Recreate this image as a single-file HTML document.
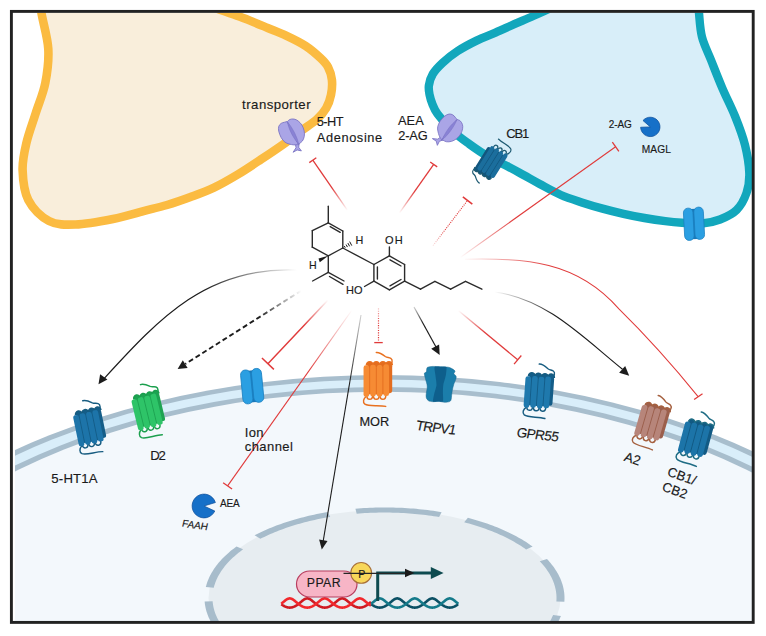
<!DOCTYPE html>
<html><head><meta charset="utf-8"><style>
html,body{margin:0;padding:0;background:#ffffff;width:766px;height:636px;overflow:hidden;}
svg{display:block;}
text{font-family:"Liberation Sans",sans-serif;}
</style></head><body>
<svg width="766" height="636" viewBox="0 0 766 636">
<defs><clipPath id="frame"><rect x="13" y="12.8" width="739" height="608.2"/></clipPath><clipPath id="cellclip"><rect x="15" y="12.8" width="737" height="608.2"/></clipPath><linearGradient id="g1" gradientUnits="userSpaceOnUse" x1="347.5" y1="210.3" x2="312.8" y2="160.2"><stop offset="0" stop-color="#e03a3a" stop-opacity="0"/><stop offset="0.45" stop-color="#e03a3a" stop-opacity="1"/><stop offset="1" stop-color="#e03a3a" stop-opacity="1"/></linearGradient><linearGradient id="g2" gradientUnits="userSpaceOnUse" x1="399.3" y1="213.2" x2="433.7" y2="164.4"><stop offset="0" stop-color="#e03a3a" stop-opacity="0"/><stop offset="0.45" stop-color="#e03a3a" stop-opacity="1"/><stop offset="1" stop-color="#e03a3a" stop-opacity="1"/></linearGradient><linearGradient id="g3" gradientUnits="userSpaceOnUse" x1="432.3" y1="244.8" x2="468.2" y2="200.3"><stop offset="0" stop-color="#e03a3a" stop-opacity="0.15"/><stop offset="0.35" stop-color="#e03a3a" stop-opacity="1"/><stop offset="1" stop-color="#e03a3a" stop-opacity="1"/></linearGradient><linearGradient id="g4" gradientUnits="userSpaceOnUse" x1="460" y1="257.7" x2="616" y2="146.4"><stop offset="0" stop-color="#e03a3a" stop-opacity="0"/><stop offset="0.35" stop-color="#e03a3a" stop-opacity="1"/><stop offset="1" stop-color="#e03a3a" stop-opacity="1"/></linearGradient><linearGradient id="g5" gradientUnits="userSpaceOnUse" x1="462" y1="259" x2="560" y2="262"><stop offset="0" stop-color="#e03a3a" stop-opacity="0"/><stop offset="0.9" stop-color="#e03a3a" stop-opacity="1"/><stop offset="1" stop-color="#e03a3a" stop-opacity="1"/></linearGradient><linearGradient id="g6" gradientUnits="userSpaceOnUse" x1="494.8" y1="292" x2="560" y2="320"><stop offset="0" stop-color="#1c1c1c" stop-opacity="0"/><stop offset="0.9" stop-color="#1c1c1c" stop-opacity="1"/><stop offset="1" stop-color="#1c1c1c" stop-opacity="1"/></linearGradient><linearGradient id="g7" gradientUnits="userSpaceOnUse" x1="458.3" y1="310.4" x2="517.7" y2="359.8"><stop offset="0" stop-color="#e03a3a" stop-opacity="0"/><stop offset="0.45" stop-color="#e03a3a" stop-opacity="1"/><stop offset="1" stop-color="#e03a3a" stop-opacity="1"/></linearGradient><linearGradient id="g8" gradientUnits="userSpaceOnUse" x1="414" y1="307" x2="440" y2="355"><stop offset="0" stop-color="#1c1c1c" stop-opacity="0.2"/><stop offset="0.35" stop-color="#1c1c1c" stop-opacity="1"/><stop offset="1" stop-color="#1c1c1c" stop-opacity="1"/></linearGradient><linearGradient id="g9" gradientUnits="userSpaceOnUse" x1="296.9" y1="270" x2="200" y2="290"><stop offset="0" stop-color="#1c1c1c" stop-opacity="0"/><stop offset="0.95" stop-color="#1c1c1c" stop-opacity="1"/><stop offset="1" stop-color="#1c1c1c" stop-opacity="1"/></linearGradient><linearGradient id="g10" gradientUnits="userSpaceOnUse" x1="301.2" y1="290.7" x2="177.6" y2="368.9"><stop offset="0" stop-color="#1c1c1c" stop-opacity="0"/><stop offset="0.35" stop-color="#1c1c1c" stop-opacity="1"/><stop offset="1" stop-color="#1c1c1c" stop-opacity="1"/></linearGradient><linearGradient id="g11" gradientUnits="userSpaceOnUse" x1="328" y1="300" x2="268.2" y2="364"><stop offset="0" stop-color="#e03a3a" stop-opacity="0"/><stop offset="0.4" stop-color="#e03a3a" stop-opacity="1"/><stop offset="1" stop-color="#e03a3a" stop-opacity="1"/></linearGradient><linearGradient id="g12" gradientUnits="userSpaceOnUse" x1="352" y1="310" x2="227.6" y2="485.9"><stop offset="0" stop-color="#e03a3a" stop-opacity="0"/><stop offset="0.35" stop-color="#e03a3a" stop-opacity="1"/><stop offset="1" stop-color="#e03a3a" stop-opacity="1"/></linearGradient><linearGradient id="g13" gradientUnits="userSpaceOnUse" x1="361" y1="315" x2="322" y2="550"><stop offset="0" stop-color="#1c1c1c" stop-opacity="0.2"/><stop offset="0.3" stop-color="#1c1c1c" stop-opacity="1"/><stop offset="1" stop-color="#1c1c1c" stop-opacity="1"/></linearGradient><linearGradient id="g14" gradientUnits="userSpaceOnUse" x1="378.5" y1="308.3" x2="378.5" y2="342.6"><stop offset="0" stop-color="#e03a3a" stop-opacity="0.3"/><stop offset="0.4" stop-color="#e03a3a" stop-opacity="1"/><stop offset="1" stop-color="#e03a3a" stop-opacity="1"/></linearGradient></defs>
<rect x="0" y="0" width="766" height="636" fill="#ffffff"/>
<g clip-path="url(#frame)">
<path d="M40,-5 C40.25,-1.97 40.12,4.2 41.5,13.2 C42.88,22.2 47.67,37.37 48.3,49 C48.93,60.63 47.38,72.33 45.3,83 C43.22,93.67 38.95,103 35.8,113 C32.65,123 28.6,133.5 26.4,143 C24.2,152.5 22.28,160.5 22.6,170 C22.92,179.5 23.9,191.5 28.3,200 C32.7,208.5 41.13,216.92 49,221 C56.87,225.08 64.83,224.83 75.5,224.5 C86.17,224.17 101.67,221.23 113,219 C124.33,216.77 134.5,213.43 143.5,211.1 C152.5,208.77 159.17,207.35 167,205 C174.83,202.65 182.67,199.9 190.5,197 C198.33,194.1 206.17,191.33 214,187.6 C221.83,183.87 229.67,179.3 237.5,174.6 C245.33,169.9 253.17,164.6 261,159.4 C268.83,154.2 277.87,148.13 284.5,143.4 C291.13,138.67 295.42,135 300.8,131 C306.18,127 312.57,123.22 316.8,119.4 C321.03,115.58 323.83,112.18 326.2,108.1 C328.57,104.02 330.05,99.62 331,94.9 C331.95,90.18 332.4,84.45 331.9,79.8 C331.4,75.15 329.88,70.62 328,67 C326.12,63.38 324.35,61.63 320.6,58.1 C316.85,54.57 311.17,49.52 305.5,45.8 C299.83,42.08 292.9,38.78 286.6,35.8 C280.3,32.82 275.57,31.1 267.7,27.9 C259.83,24.7 249.85,20.58 239.4,16.6 C228.95,12.62 213.23,7.6 205,4 C196.77,0.4 192.5,-3.5 190,-5 Z" fill="#f9eedb" stroke="#fbbb41" stroke-width="8.6"/>
<path d="M575,-5 C571.67,-3.17 561.97,2.5 555,6 C548.03,9.5 539.98,12.97 533.2,16 C526.42,19.03 520.58,21.43 514.3,24.2 C508.02,26.97 501.78,29.87 495.5,32.6 C489.22,35.33 482.9,37.53 476.6,40.6 C470.3,43.67 463.37,47.3 457.7,51 C452.03,54.7 446.75,58.97 442.6,62.8 C438.45,66.63 435.08,70.22 432.8,74 C430.52,77.78 429.43,82.02 428.9,85.5 C428.37,88.98 429,91.77 429.6,94.9 C430.2,98.03 431.2,101.15 432.5,104.3 C433.8,107.45 434.15,109.43 437.4,113.8 C440.65,118.17 446.7,125.47 452,130.5 C457.3,135.53 463.2,139.67 469.2,144 C475.2,148.33 481.48,152.72 488,156.5 C494.52,160.28 502.3,163.57 508.3,166.7 C514.3,169.83 518.77,172.42 524,175.3 C529.23,178.18 533.55,180.72 539.7,184 C545.85,187.28 553.88,191.93 560.9,195 C567.92,198.07 574.85,200.13 581.8,202.4 C588.75,204.67 595.65,206.7 602.6,208.6 C609.55,210.5 616.53,212.23 623.5,213.8 C630.47,215.37 637.43,216.77 644.4,218 C651.37,219.23 659.03,220.4 665.3,221.2 C671.57,222 675.88,222.42 682,222.8 C688.12,223.18 695.67,224.05 702,223.5 C708.33,222.95 714.23,221.75 720,219.5 C725.77,217.25 732.18,214.42 736.6,210 C741.02,205.58 744.38,199.13 746.5,193 C748.62,186.87 749.55,181.2 749.3,173.2 C749.05,165.2 747.35,154.43 745,145 C742.65,135.57 738.97,126.05 735.2,116.6 C731.43,107.15 726.43,97.73 722.4,88.3 C718.37,78.87 714.4,68.55 711,60 C707.6,51.45 704,44.83 702,37 C700,29.17 699.67,20 699,13 C698.33,6 698.17,-2 698,-5 Z" fill="#d8eef9" stroke="#12a7bc" stroke-width="8.4"/>
</g>
<g clip-path="url(#cellclip)">
<ellipse cx="382.45" cy="734.4" rx="600.87" ry="359.37" fill="#a8becd"/>
<ellipse cx="382.45" cy="734.4" rx="593.45" ry="354.93" fill="#d9eefa"/>
<ellipse cx="382.45" cy="734.4" rx="580.68" ry="347.3" fill="#a8becd"/>
<ellipse cx="382.45" cy="734.4" rx="573.05" ry="342.74" fill="#f3f8fc"/>
<ellipse cx="384.5" cy="598" rx="176" ry="88" fill="#e7edf1"/>
<path d="M314.17,681.35 L316.86,681.91 L319.56,682.45 L322.29,682.97 L325.03,683.46 L327.78,683.94 L330.55,684.39 L333.34,684.82 L336.13,685.22 L338.95,685.6 L341.77,685.96 L344.6,686.3 L347.44,686.61 L350.3,686.9 L353.16,687.17 L356.03,687.41 L358.91,687.63 L361.79,687.83 L364.69,688 L367.58,688.15 L370.48,688.27 L373.39,688.38 L376.29,688.46 L379.2,688.51 L382.11,688.54 L385.02,688.55 L387.93,688.53 L390.84,688.49 L393.75,688.43 L396.66,688.34 L399.56,688.23 L398.89,683.15 L396.12,683.25 L393.34,683.34 L390.56,683.4 L387.78,683.43 L385,683.45 L382.22,683.44 L379.44,683.41 L376.66,683.36 L373.88,683.29 L371.1,683.19 L368.33,683.07 L365.57,682.93 L362.8,682.77 L360.05,682.58 L357.3,682.37 L354.55,682.14 L351.82,681.89 L349.09,681.62 L346.37,681.32 L343.67,681.01 L340.97,680.67 L338.28,680.31 L335.61,679.93 L332.95,679.52 L330.3,679.1 L327.67,678.65 L325.05,678.18 L322.45,677.7 L319.86,677.19 L317.29,676.66 Z M427.74,685.9 L430.56,685.54 L433.37,685.15 L436.16,684.74 L438.95,684.31 L441.71,683.85 L444.47,683.38 L447.2,682.88 L449.92,682.36 L452.63,681.81 L455.31,681.25 L457.98,680.66 L460.63,680.05 L463.26,679.42 L465.86,678.77 L468.45,678.1 L471.01,677.41 L473.56,676.69 L476.07,675.96 L478.57,675.2 L481.04,674.43 L483.48,673.63 L485.9,672.82 L488.29,671.98 L490.66,671.13 L492.99,670.25 L495.3,669.36 L497.58,668.45 L499.83,667.52 L502.05,666.57 L504.24,665.61 L498.92,661.8 L496.83,662.71 L494.71,663.61 L492.56,664.48 L490.38,665.34 L488.17,666.18 L485.94,667.01 L483.68,667.81 L481.39,668.6 L479.08,669.37 L476.75,670.12 L474.39,670.85 L472,671.57 L469.6,672.26 L467.17,672.93 L464.72,673.59 L462.25,674.22 L459.76,674.84 L457.24,675.43 L454.71,676.01 L452.17,676.56 L449.6,677.09 L447.02,677.61 L444.42,678.1 L441.8,678.57 L439.17,679.02 L436.53,679.45 L433.87,679.85 L431.2,680.24 L428.51,680.6 L425.82,680.95 Z M523.99,655.23 L525.81,654.09 L527.6,652.93 L529.34,651.76 L531.05,650.57 L532.72,649.37 L534.36,648.16 L535.95,646.94 L537.5,645.7 L539.02,644.45 L540.49,643.18 L541.92,641.91 L543.31,640.62 L544.66,639.32 L545.97,638.02 L547.23,636.7 L548.46,635.37 L549.64,634.03 L550.77,632.68 L551.87,631.32 L552.92,629.96 L553.92,628.58 L554.88,627.2 L555.8,625.81 L556.67,624.41 L557.5,623.01 L558.28,621.6 L559.02,620.18 L559.71,618.76 L560.35,617.33 L560.95,615.9 L553.11,614.89 L552.53,616.24 L551.92,617.59 L551.26,618.93 L550.56,620.27 L549.81,621.6 L549.02,622.93 L548.19,624.24 L547.31,625.56 L546.39,626.86 L545.43,628.16 L544.43,629.45 L543.38,630.73 L542.3,632 L541.17,633.26 L540,634.52 L538.79,635.76 L537.54,637 L536.25,638.22 L534.92,639.44 L533.56,640.64 L532.15,641.83 L530.7,643.01 L529.22,644.18 L527.7,645.34 L526.14,646.48 L524.54,647.61 L522.91,648.73 L521.24,649.84 L519.53,650.93 L517.79,652.01 Z M564.35,601.63 L564.45,600.17 L564.49,598.71 L564.49,597.24 L564.45,595.78 L564.35,594.31 L564.21,592.85 L564.02,591.39 L563.78,589.93 L563.5,588.47 L563.17,587.02 L562.79,585.56 L562.37,584.12 L561.9,582.67 L561.39,581.23 L560.82,579.79 L560.22,578.36 L559.56,576.93 L558.86,575.51 L558.11,574.1 L557.32,572.69 L556.49,571.28 L555.61,569.89 L554.68,568.5 L553.71,567.12 L552.69,565.75 L551.64,564.38 L550.53,563.03 L549.39,561.68 L548.2,560.34 L546.97,559.02 L539.74,561.21 L540.92,562.46 L542.06,563.73 L543.15,565 L544.21,566.28 L545.22,567.56 L546.19,568.86 L547.12,570.16 L548,571.47 L548.84,572.79 L549.64,574.11 L550.4,575.44 L551.11,576.78 L551.78,578.12 L552.41,579.47 L552.99,580.82 L553.52,582.17 L554.02,583.53 L554.47,584.9 L554.87,586.27 L555.23,587.64 L555.55,589.01 L555.82,590.38 L556.04,591.76 L556.22,593.14 L556.36,594.52 L556.45,595.9 L556.49,597.28 L556.49,598.67 L556.45,600.05 L556.36,601.43 Z M532.66,546.58 L530.99,545.38 L529.28,544.2 L527.53,543.03 L525.75,541.87 L523.92,540.73 L522.06,539.6 L520.17,538.49 L518.24,537.39 L516.27,536.31 L514.27,535.25 L512.24,534.2 L510.17,533.17 L508.07,532.16 L505.94,531.16 L503.77,530.18 L501.58,529.22 L499.35,528.28 L497.09,527.35 L494.81,526.45 L492.49,525.56 L490.15,524.69 L487.78,523.84 L485.38,523.01 L482.96,522.2 L480.51,521.41 L478.03,520.63 L475.53,519.88 L473.01,519.15 L470.46,518.44 L467.89,517.75 L464.19,522.27 L466.64,522.92 L469.07,523.59 L471.49,524.28 L473.87,524.99 L476.24,525.72 L478.58,526.47 L480.9,527.23 L483.19,528.01 L485.45,528.82 L487.69,529.64 L489.9,530.48 L492.09,531.33 L494.24,532.2 L496.37,533.09 L498.47,534 L500.54,534.93 L502.58,535.87 L504.58,536.82 L506.56,537.8 L508.5,538.78 L510.42,539.79 L512.29,540.81 L514.14,541.84 L515.95,542.89 L517.73,543.95 L519.47,545.03 L521.18,546.12 L522.85,547.23 L524.48,548.35 L526.08,549.48 Z M441.61,512.13 L438.85,511.68 L436.06,511.24 L433.27,510.84 L430.46,510.45 L427.64,510.09 L424.81,509.75 L421.97,509.43 L419.11,509.14 L416.25,508.87 L413.38,508.62 L410.5,508.4 L407.62,508.2 L404.73,508.02 L401.84,507.87 L398.94,507.74 L396.03,507.64 L393.13,507.55 L390.22,507.5 L387.31,507.46 L384.4,507.45 L381.48,507.46 L378.57,507.5 L375.67,507.56 L372.76,507.64 L369.86,507.75 L366.96,507.88 L364.06,508.04 L361.17,508.21 L358.29,508.42 L355.41,508.64 L356.7,513.67 L359.45,513.46 L362.21,513.27 L364.97,513.1 L367.74,512.96 L370.51,512.83 L373.28,512.73 L376.06,512.65 L378.84,512.6 L381.62,512.56 L384.4,512.55 L387.18,512.56 L389.96,512.59 L392.74,512.65 L395.52,512.73 L398.29,512.83 L401.07,512.95 L403.83,513.09 L406.59,513.26 L409.35,513.45 L412.1,513.66 L414.84,513.89 L417.57,514.14 L420.3,514.42 L423.02,514.72 L425.72,515.04 L428.42,515.38 L431.1,515.75 L433.77,516.13 L436.43,516.54 L439.08,516.97 Z M327.68,512.08 L324.93,512.55 L322.19,513.05 L319.47,513.57 L316.76,514.11 L314.07,514.67 L311.4,515.25 L308.75,515.86 L306.12,516.49 L303.51,517.13 L300.92,517.8 L298.35,518.49 L295.81,519.2 L293.29,519.94 L290.79,520.69 L288.32,521.46 L285.87,522.25 L283.45,523.07 L281.05,523.9 L278.68,524.75 L276.34,525.62 L274.03,526.51 L271.74,527.42 L269.49,528.34 L267.27,529.29 L265.07,530.25 L262.91,531.23 L260.78,532.23 L258.68,533.25 L256.62,534.28 L254.58,535.33 L260.36,538.86 L262.3,537.87 L264.27,536.89 L266.28,535.93 L268.31,534.99 L270.38,534.07 L272.48,533.16 L274.6,532.27 L276.76,531.39 L278.94,530.54 L281.15,529.7 L283.38,528.88 L285.65,528.07 L287.94,527.29 L290.25,526.52 L292.59,525.77 L294.95,525.04 L297.34,524.33 L299.75,523.64 L302.18,522.97 L304.64,522.32 L307.11,521.69 L309.6,521.08 L312.12,520.48 L314.65,519.91 L317.2,519.36 L319.77,518.83 L322.36,518.32 L324.96,517.83 L327.58,517.37 L330.21,516.92 Z M236.51,546.45 L234.88,547.66 L233.28,548.89 L231.72,550.12 L230.2,551.37 L228.72,552.63 L227.28,553.91 L225.89,555.19 L224.53,556.49 L223.22,557.79 L221.94,559.11 L220.72,560.44 L219.53,561.78 L218.39,563.12 L217.29,564.48 L216.23,565.85 L215.22,567.22 L214.25,568.6 L213.33,569.99 L212.45,571.38 L211.62,572.79 L210.83,574.2 L210.09,575.61 L209.39,577.04 L208.74,578.46 L208.13,579.9 L207.58,581.33 L207.06,582.77 L206.6,584.22 L206.18,585.67 L205.8,587.12 L213.75,587.73 L214.1,586.36 L214.5,585 L214.95,583.63 L215.44,582.27 L215.97,580.92 L216.55,579.56 L217.17,578.22 L217.84,576.87 L218.55,575.54 L219.3,574.21 L220.1,572.88 L220.94,571.57 L221.82,570.26 L222.74,568.95 L223.71,567.66 L224.72,566.37 L225.77,565.09 L226.86,563.82 L227.99,562.56 L229.17,561.3 L230.38,560.06 L231.64,558.83 L232.93,557.6 L234.27,556.39 L235.64,555.19 L237.06,554 L238.51,552.82 L240,551.65 L241.53,550.5 L243.09,549.36 Z M204.63,601.48 L204.77,602.94 L204.95,604.4 L205.18,605.86 L205.46,607.32 L205.78,608.77 L206.15,610.23 L206.56,611.68 L207.03,613.12 L207.54,614.56 L208.09,616 L208.69,617.43 L209.34,618.86 L210.04,620.28 L210.78,621.7 L211.56,623.11 L212.39,624.51 L213.26,625.91 L214.18,627.3 L215.15,628.68 L216.16,630.06 L217.21,631.42 L218.31,632.78 L219.45,634.13 L220.63,635.46 L221.85,636.79 L223.12,638.11 L224.43,639.42 L225.79,640.72 L227.18,642 L228.62,643.27 L235.54,640.73 L234.17,639.52 L232.84,638.31 L231.55,637.09 L230.3,635.85 L229.08,634.61 L227.91,633.35 L226.78,632.09 L225.69,630.82 L224.64,629.54 L223.64,628.25 L222.68,626.95 L221.75,625.65 L220.88,624.34 L220.04,623.02 L219.25,621.7 L218.5,620.37 L217.79,619.03 L217.13,617.69 L216.51,616.34 L215.93,614.99 L215.4,613.63 L214.92,612.27 L214.47,610.91 L214.08,609.54 L213.72,608.17 L213.41,606.79 L213.15,605.42 L212.93,604.04 L212.76,602.66 L212.63,601.28 Z M244.81,655.11 L246.67,656.24 L248.56,657.35 L250.48,658.45 L252.44,659.53 L254.44,660.6 L256.47,661.65 L258.53,662.68 L260.63,663.7 L262.75,664.7 L264.91,665.68 L267.11,666.64 L269.33,667.59 L271.58,668.52 L273.86,669.43 L276.17,670.32 L278.51,671.19 L280.88,672.04 L283.27,672.87 L285.69,673.69 L288.14,674.48 L290.61,675.26 L293.11,676.01 L295.63,676.74 L298.17,677.46 L300.74,678.15 L303.32,678.82 L305.93,679.47 L308.56,680.1 L311.21,680.7 L313.88,681.29 L317.02,676.6 L314.47,676.05 L311.94,675.47 L309.42,674.88 L306.93,674.27 L304.46,673.63 L302.01,672.98 L299.58,672.31 L297.17,671.62 L294.78,670.9 L292.42,670.17 L290.08,669.43 L287.77,668.66 L285.48,667.87 L283.22,667.07 L280.99,666.24 L278.78,665.4 L276.6,664.54 L274.45,663.67 L272.32,662.78 L270.23,661.87 L268.17,660.94 L266.13,660 L264.13,659.04 L262.16,658.06 L260.22,657.07 L258.31,656.07 L256.44,655.04 L254.6,654.01 L252.79,652.96 L251.02,651.89 Z M340.95,685.86 L343.78,686.2 L346.63,686.52 L349.48,686.82 L352.34,687.09 L355.2,687.34 L358.08,687.57 L360.96,687.77 L363.85,687.95 L366.75,688.11 L369.65,688.24 L372.55,688.35 L375.46,688.44 L378.36,688.5 L381.27,688.54 L384.19,688.55 L387.1,688.54 L390.01,688.51 L392.92,688.45 L395.82,688.37 L398.73,688.27 L401.63,688.14 L404.52,687.99 L407.41,687.81 L410.3,687.62 L413.18,687.39 L416.05,687.15 L418.91,686.88 L421.76,686.59 L424.6,686.27 L427.44,685.94 L425.53,680.98 L422.82,681.3 L420.1,681.6 L417.38,681.87 L414.64,682.13 L411.9,682.36 L409.15,682.57 L406.39,682.75 L403.63,682.92 L400.87,683.06 L398.09,683.18 L395.32,683.28 L392.54,683.36 L389.76,683.41 L386.98,683.44 L384.2,683.45 L381.42,683.44 L378.64,683.4 L375.86,683.34 L373.08,683.26 L370.31,683.16 L367.54,683.03 L364.77,682.89 L362.01,682.72 L359.25,682.52 L356.51,682.31 L353.77,682.07 L351.03,681.82 L348.31,681.54 L345.59,681.24 L342.89,680.91 Z" fill="#a7bccb"/>
</g>
<g fill="none"><line x1="347.5" y1="210.3" x2="312.8" y2="160.2" stroke="url(#g1)" stroke-width="1.3"/><line x1="316.33" y1="157.75" x2="309.27" y2="162.65" stroke="#e03a3a" stroke-width="1.3"/><line x1="399.3" y1="213.2" x2="433.7" y2="164.4" stroke="url(#g2)" stroke-width="1.3"/><line x1="437.21" y1="166.88" x2="430.19" y2="161.92" stroke="#e03a3a" stroke-width="1.3"/><line x1="433" y1="245.6" x2="467.6" y2="200.4" stroke="url(#g3)" stroke-width="1.1" stroke-dasharray="1.1 1.1"/><line x1="472.32" y1="204.02" x2="462.88" y2="196.78" stroke="#e03a3a" stroke-width="1.6"/><line x1="460" y1="257.7" x2="615.6" y2="146.8" stroke="url(#g4)" stroke-width="1.1"/><line x1="618.85" y1="151.36" x2="612.35" y2="142.24" stroke="#e03a3a" stroke-width="1.3"/><line x1="458.3" y1="310.4" x2="517.7" y2="359.8" stroke="url(#g7)" stroke-width="1.3"/><line x1="514.09" y1="364.14" x2="521.31" y2="355.46" stroke="#e03a3a" stroke-width="1.3"/><line x1="378.5" y1="308.3" x2="378.5" y2="342.6" stroke="url(#g14)" stroke-width="1.2" stroke-dasharray="1.1 1.3"/><line x1="374.25" y1="342.6" x2="382.75" y2="342.6" stroke="#e03a3a" stroke-width="1.3"/><line x1="328" y1="300" x2="267.9" y2="363.7" stroke="url(#g11)" stroke-width="1.45"/><line x1="261.94" y1="358.07" x2="273.86" y2="369.33" stroke="#e03a3a" stroke-width="1.5"/><line x1="352" y1="310" x2="227.6" y2="485.9" stroke="url(#g12)" stroke-width="1.1"/><line x1="223.15" y1="482.75" x2="232.05" y2="489.05" stroke="#e03a3a" stroke-width="1.3"/><path d="M465,259.2 C525.2,258.1 576.7,260.5 618.9,308.9 C647,336.5 673.3,366 698.1,396.6" fill="none" stroke="url(#g5)" stroke-width="1.05"/><line x1="694.1" y1="399.5" x2="702.5" y2="393.7" stroke="#e03a3a" stroke-width="1.3"/><path d="M494.8,292 C546.9,298.8 584,338.4 622.5,369.3" fill="none" stroke="url(#g6)" stroke-width="1.15"/><path d="M629.2,375.8 L619.14,372.76 L625.18,366.09 Z" fill="#1c1c1c"/><line x1="414" y1="307" x2="436" y2="347" stroke="url(#g8)" stroke-width="1.2"/><path d="M439.7,355 L431.2,348.81 L439.1,344.51 Z" fill="#1c1c1c"/><line x1="361" y1="315" x2="323.2" y2="541" stroke="url(#g13)" stroke-width="1.1"/><path d="M321.8,549.6 L319.12,539.54 L327.51,540.9 Z" fill="#1c1c1c"/><path d="M296.9,270 C207.8,266.2 160.3,317 104.3,378.3" fill="none" stroke="url(#g9)" stroke-width="1.2"/><path d="M98.5,384.2 L100.13,374.27 L107.42,379.55 Z" fill="#1c1c1c"/><line x1="301.2" y1="290.7" x2="185.3" y2="364" stroke="url(#g10)" stroke-width="1.9" stroke-dasharray="5 3"/><path d="M177.6,368.9 L182.8,360.29 L187.61,367.9 Z" fill="#1c1c1c"/></g>
<g stroke="#2b2b2b" stroke-width="1.4" stroke-linecap="round"><line x1="328.3" y1="206.3" x2="328.3" y2="222.8"/><line x1="328.3" y1="222.8" x2="342.8" y2="231"/><line x1="342.8" y1="231" x2="342.8" y2="248"/><line x1="342.8" y1="248" x2="328.3" y2="255.8"/><line x1="328.3" y1="255.8" x2="312.3" y2="247.2"/><line x1="312.3" y1="247.2" x2="312.3" y2="230.7"/><line x1="312.3" y1="230.7" x2="328.3" y2="222.8"/><line x1="330.2" y1="226.6" x2="340.2" y2="232.3"/><line x1="328.3" y1="255.8" x2="328.3" y2="272.3"/><line x1="328.3" y1="272.3" x2="312.6" y2="281"/><line x1="328.3" y1="272.3" x2="344" y2="281"/><line x1="329.5" y1="276.5" x2="343" y2="284.3"/><line x1="342.8" y1="248" x2="373.9" y2="264.5"/><line x1="373.9" y1="264.5" x2="389.4" y2="255.8"/><line x1="389.4" y1="255.8" x2="404.6" y2="264.5"/><line x1="404.6" y1="264.5" x2="404.6" y2="281.2"/><line x1="404.6" y1="281.2" x2="389.4" y2="289.8"/><line x1="389.4" y1="289.8" x2="373.9" y2="281.2"/><line x1="373.9" y1="281.2" x2="373.9" y2="264.5"/><line x1="377.4" y1="267" x2="377.4" y2="279"/><line x1="390" y1="259.8" x2="401" y2="266"/><line x1="401" y1="279.5" x2="390" y2="285.8"/><line x1="389.4" y1="255.8" x2="389.4" y2="247"/><line x1="373.9" y1="281.2" x2="364.5" y2="286.5"/><line x1="404.6" y1="281.2" x2="420.5" y2="289.2"/><line x1="420.5" y1="289.2" x2="434.9" y2="281.4"/><line x1="434.9" y1="281.4" x2="450.6" y2="289.2"/><line x1="450.6" y1="289.2" x2="465.5" y2="281.4"/><line x1="465.5" y1="281.4" x2="481.9" y2="289.2"/></g><path d="M328.3,255.8 L318.5,258.6 L319.8,262.2 Z" fill="#1a1a1a"/><g stroke="#1a1a1a" stroke-width="1"><line x1="344.31" y1="246.02" x2="345.25" y2="247.78"/><line x1="346.09" y1="244.54" x2="347.43" y2="247.06"/><line x1="347.88" y1="243.07" x2="349.6" y2="246.33"/><line x1="349.66" y1="241.59" x2="351.78" y2="245.61"/></g>
<g transform="translate(292.95,133.2) rotate(-26) scale(1)" stroke="#7b74c4" stroke-width="0.8" stroke-linejoin="round"><path d="M-2.4,10.5 L-3.6,14.4 L-8.2,17.2 L-3.6,16.9 L-0.2,19.6 L-1.0,15.2 L1.2,11.6 Z" fill="#aaa5e6"/><path d="M0,-12.9 C-0.47,-13.02 -1.75,-13.42 -2.8,-13.6 C-3.85,-13.78 -5.15,-14.2 -6.3,-14 C-7.45,-13.8 -8.77,-13.4 -9.7,-12.4 C-10.63,-11.4 -11.43,-9.88 -11.9,-8 C-12.37,-6.12 -12.63,-3.18 -12.5,-1.1 C-12.37,0.98 -11.8,3 -11.1,4.5 C-10.4,6 -9.4,6.85 -8.3,7.9 C-7.2,8.95 -5.68,10.08 -4.5,10.8 C-3.32,11.52 -1.95,11.85 -1.2,12.2 C-0.45,12.55 -0.2,12.78 0,12.9 Z" fill="#aaa5e6"/><path d="M0,-12.9 C0.55,-13.03 2.1,-13.82 3.3,-13.7 C4.5,-13.58 6.08,-13.02 7.2,-12.2 C8.32,-11.38 9.27,-10.27 10,-8.8 C10.73,-7.33 11.42,-5.32 11.6,-3.4 C11.78,-1.48 11.57,0.83 11.1,2.7 C10.63,4.57 9.82,6.38 8.8,7.8 C7.78,9.22 6.25,10.48 5,11.2 C3.75,11.92 2.13,11.82 1.3,12.1 C0.47,12.38 0.22,12.77 0,12.9 Z" fill="#aaa5e6"/><path d="M0,-12.6 C2.1,-5 2.1,5 0.4,12.6 C-1.8,5 -2.1,-5 0,-12.6 Z" fill="#8982d5" stroke-width="0.5"/></g>
<g transform="translate(449.3,129.8) rotate(37) scale(1)" stroke="#7b74c4" stroke-width="0.8" stroke-linejoin="round"><path d="M-2.4,10.5 L-3.6,14.4 L-8.2,17.2 L-3.6,16.9 L-0.2,19.6 L-1.0,15.2 L1.2,11.6 Z" fill="#aaa5e6"/><path d="M0,-12.9 C-0.47,-13.02 -1.75,-13.42 -2.8,-13.6 C-3.85,-13.78 -5.15,-14.2 -6.3,-14 C-7.45,-13.8 -8.77,-13.4 -9.7,-12.4 C-10.63,-11.4 -11.43,-9.88 -11.9,-8 C-12.37,-6.12 -12.63,-3.18 -12.5,-1.1 C-12.37,0.98 -11.8,3 -11.1,4.5 C-10.4,6 -9.4,6.85 -8.3,7.9 C-7.2,8.95 -5.68,10.08 -4.5,10.8 C-3.32,11.52 -1.95,11.85 -1.2,12.2 C-0.45,12.55 -0.2,12.78 0,12.9 Z" fill="#aaa5e6"/><path d="M0,-12.9 C0.55,-13.03 2.1,-13.82 3.3,-13.7 C4.5,-13.58 6.08,-13.02 7.2,-12.2 C8.32,-11.38 9.27,-10.27 10,-8.8 C10.73,-7.33 11.42,-5.32 11.6,-3.4 C11.78,-1.48 11.57,0.83 11.1,2.7 C10.63,4.57 9.82,6.38 8.8,7.8 C7.78,9.22 6.25,10.48 5,11.2 C3.75,11.92 2.13,11.82 1.3,12.1 C0.47,12.38 0.22,12.77 0,12.9 Z" fill="#aaa5e6"/><path d="M0,-12.6 C2.1,-5 2.1,5 0.4,12.6 C-1.8,5 -2.1,-5 0,-12.6 Z" fill="#8982d5" stroke-width="0.5"/></g>
<g transform="translate(491.8,161.6) rotate(212) scale(0.76,0.88)"><path d="M12.2,-14 C15,-17 15.6,-21 13.4,-22.3 C11.4,-23.5 9.9,-22.8 7.9,-24.2 C4.9,-26.5 1.9,-28.6 -1.1,-28.2" fill="none" stroke="#1d5a72" stroke-width="1.45" stroke-linecap="round"/><path d="M-11,15.6 C-14,18 -15,21.5 -12.5,23.5 C-8.5,26.3 1.5,24.1 8.3,25.7" fill="none" stroke="#1d5a72" stroke-width="1.45" stroke-linecap="round"/><path d="M-10.6,14.8 a2.9,3.8 0 0 0 5.8,0" fill="none" stroke="#1d5a72" stroke-width="1.45"/><path d="M-4,14.8 a2.9,3.8 0 0 0 5.8,0" fill="none" stroke="#1d5a72" stroke-width="1.45"/><path d="M2.6,14.8 a2.9,3.8 0 0 0 5.8,0" fill="none" stroke="#1d5a72" stroke-width="1.45"/><rect x="-10.5" y="-16.3" width="5.6" height="29.8" rx="2.4" fill="#12567e"/><rect x="-3.9" y="-16.6" width="5.6" height="30.4" rx="2.4" fill="#12567e"/><rect x="2.7" y="-16.4" width="5.6" height="30" rx="2.4" fill="#12567e"/><rect x="9.2" y="-16.8" width="5.6" height="29.3" rx="2.4" fill="#12567e"/><path d="M-11,-15.4 a3.3,3.6 0 0 1 6.6,0" fill="#12567e" stroke="#1d5a72" stroke-width="1.6"/><path d="M-4.4,-15.4 a3.3,3.6 0 0 1 6.6,0" fill="#12567e" stroke="#1d5a72" stroke-width="1.6"/><path d="M2.2,-15.4 a3.3,3.6 0 0 1 6.6,0" fill="#12567e" stroke="#1d5a72" stroke-width="1.6"/><path d="M8.3,-15.4 a3.3,3.6 0 0 1 6.6,0" fill="#12567e" stroke="#1d5a72" stroke-width="1.6"/><rect x="-13.85" y="-15.4" width="5.7" height="31.6" rx="2.4" fill="#1b6e9d"/><rect x="-7.25" y="-16" width="5.7" height="31.8" rx="2.4" fill="#1b6e9d"/><rect x="-0.65" y="-15.8" width="5.7" height="31.8" rx="2.4" fill="#1b6e9d"/><rect x="5.95" y="-16.4" width="5.7" height="31.8" rx="2.4" fill="#1b6e9d"/></g>
<g transform="translate(694,224) rotate(-3) scale(0.95)"><rect x="-3" y="-16" width="6" height="32" fill="#1a78b8"/><rect x="-10.5" y="-17" width="10" height="34" rx="4.8" fill="#2b9fe2" stroke="#1a7fc0" stroke-width="0.8"/><rect x="0.5" y="-17.5" width="10" height="34" rx="4.8" fill="#2b9fe2" stroke="#1a7fc0" stroke-width="0.8"/></g>
<path d="M650.3,126.9 L642.98,120.54 A9.7,9.7 0 1 1 640.61,127.24 Z" fill="#1670c8" stroke="#0c4c98" stroke-width="0.7"/>
<g transform="translate(89.5,428.1) rotate(-11.6) scale(1)"><path d="M12.2,-14 C15,-17 15.6,-21 13.4,-22.3 C11.4,-23.5 9.9,-22.8 7.9,-24.2 C4.9,-26.5 1.9,-28.6 -1.1,-28.2" fill="none" stroke="#175c80" stroke-width="1.45" stroke-linecap="round"/><path d="M-11,15.6 C-14,18 -15,21.5 -12.5,23.5 C-8.5,26.3 1.5,24.1 8.3,25.7" fill="none" stroke="#175c80" stroke-width="1.45" stroke-linecap="round"/><path d="M-10.6,14.8 a2.9,3.8 0 0 0 5.8,0" fill="none" stroke="#175c80" stroke-width="1.45"/><path d="M-4,14.8 a2.9,3.8 0 0 0 5.8,0" fill="none" stroke="#175c80" stroke-width="1.45"/><path d="M2.6,14.8 a2.9,3.8 0 0 0 5.8,0" fill="none" stroke="#175c80" stroke-width="1.45"/><rect x="-10.5" y="-16.3" width="5.6" height="29.8" rx="2.4" fill="#145d88"/><rect x="-3.9" y="-16.6" width="5.6" height="30.4" rx="2.4" fill="#145d88"/><rect x="2.7" y="-16.4" width="5.6" height="30" rx="2.4" fill="#145d88"/><rect x="9.2" y="-16.8" width="5.6" height="29.3" rx="2.4" fill="#145d88"/><path d="M-11,-15.4 a3.3,3.6 0 0 1 6.6,0" fill="#145d88" stroke="#175c80" stroke-width="1.6"/><path d="M-4.4,-15.4 a3.3,3.6 0 0 1 6.6,0" fill="#145d88" stroke="#175c80" stroke-width="1.6"/><path d="M2.2,-15.4 a3.3,3.6 0 0 1 6.6,0" fill="#145d88" stroke="#175c80" stroke-width="1.6"/><path d="M8.3,-15.4 a3.3,3.6 0 0 1 6.6,0" fill="#145d88" stroke="#175c80" stroke-width="1.6"/><rect x="-13.85" y="-15.4" width="5.7" height="31.6" rx="2.4" fill="#1d74a9"/><rect x="-7.25" y="-16" width="5.7" height="31.8" rx="2.4" fill="#1d74a9"/><rect x="-0.65" y="-15.8" width="5.7" height="31.8" rx="2.4" fill="#1d74a9"/><rect x="5.95" y="-16.4" width="5.7" height="31.8" rx="2.4" fill="#1d74a9"/></g>
<g transform="translate(148.2,411.8) rotate(-13.6) scale(1)"><path d="M12.2,-14 C15,-17 15.6,-21 13.4,-22.3 C11.4,-23.5 9.9,-22.8 7.9,-24.2 C4.9,-26.5 1.9,-28.6 -1.1,-28.2" fill="none" stroke="#1b9f4d" stroke-width="1.45" stroke-linecap="round"/><path d="M-11,15.6 C-14,18 -15,21.5 -12.5,23.5 C-8.5,26.3 1.5,24.1 8.3,25.7" fill="none" stroke="#1b9f4d" stroke-width="1.45" stroke-linecap="round"/><path d="M-10.6,14.8 a2.9,3.8 0 0 0 5.8,0" fill="none" stroke="#1b9f4d" stroke-width="1.45"/><path d="M-4,14.8 a2.9,3.8 0 0 0 5.8,0" fill="none" stroke="#1b9f4d" stroke-width="1.45"/><path d="M2.6,14.8 a2.9,3.8 0 0 0 5.8,0" fill="none" stroke="#1b9f4d" stroke-width="1.45"/><rect x="-10.5" y="-16.3" width="5.6" height="29.8" rx="2.4" fill="#1ea352"/><rect x="-3.9" y="-16.6" width="5.6" height="30.4" rx="2.4" fill="#1ea352"/><rect x="2.7" y="-16.4" width="5.6" height="30" rx="2.4" fill="#1ea352"/><rect x="9.2" y="-16.8" width="5.6" height="29.3" rx="2.4" fill="#1ea352"/><path d="M-11,-15.4 a3.3,3.6 0 0 1 6.6,0" fill="#1ea352" stroke="#1b9f4d" stroke-width="1.6"/><path d="M-4.4,-15.4 a3.3,3.6 0 0 1 6.6,0" fill="#1ea352" stroke="#1b9f4d" stroke-width="1.6"/><path d="M2.2,-15.4 a3.3,3.6 0 0 1 6.6,0" fill="#1ea352" stroke="#1b9f4d" stroke-width="1.6"/><path d="M8.3,-15.4 a3.3,3.6 0 0 1 6.6,0" fill="#1ea352" stroke="#1b9f4d" stroke-width="1.6"/><rect x="-13.85" y="-15.4" width="5.7" height="31.6" rx="2.4" fill="#2ec468"/><rect x="-7.25" y="-16" width="5.7" height="31.8" rx="2.4" fill="#2ec468"/><rect x="-0.65" y="-15.8" width="5.7" height="31.8" rx="2.4" fill="#2ec468"/><rect x="5.95" y="-16.4" width="5.7" height="31.8" rx="2.4" fill="#2ec468"/></g>
<g transform="translate(252.2,386.4) rotate(-5.5) scale(1)"><rect x="-3" y="-16" width="6" height="32" fill="#1a78b8"/><rect x="-10.5" y="-17" width="10" height="34" rx="4.8" fill="#2b9fe2" stroke="#1a7fc0" stroke-width="0.8"/><rect x="0.5" y="-17.5" width="10" height="34" rx="4.8" fill="#2b9fe2" stroke="#1a7fc0" stroke-width="0.8"/></g>
<g transform="translate(377.4,380.7) rotate(0) scale(1)"><path d="M12.2,-14 C15,-17 15.6,-21 13.4,-22.3 C11.4,-23.5 9.9,-22.8 7.9,-24.2 C4.9,-26.5 1.9,-28.6 -1.1,-28.2" fill="none" stroke="#e8701f" stroke-width="1.45" stroke-linecap="round"/><path d="M-11,15.6 C-14,18 -15,21.5 -12.5,23.5 C-8.5,26.3 1.5,24.1 8.3,25.7" fill="none" stroke="#e8701f" stroke-width="1.45" stroke-linecap="round"/><path d="M-10.6,14.8 a2.9,3.8 0 0 0 5.8,0" fill="none" stroke="#e8701f" stroke-width="1.45"/><path d="M-4,14.8 a2.9,3.8 0 0 0 5.8,0" fill="none" stroke="#e8701f" stroke-width="1.45"/><path d="M2.6,14.8 a2.9,3.8 0 0 0 5.8,0" fill="none" stroke="#e8701f" stroke-width="1.45"/><rect x="-10.5" y="-16.3" width="5.6" height="29.8" rx="2.4" fill="#e36d1f"/><rect x="-3.9" y="-16.6" width="5.6" height="30.4" rx="2.4" fill="#e36d1f"/><rect x="2.7" y="-16.4" width="5.6" height="30" rx="2.4" fill="#e36d1f"/><rect x="9.2" y="-16.8" width="5.6" height="29.3" rx="2.4" fill="#e36d1f"/><path d="M-11,-15.4 a3.3,3.6 0 0 1 6.6,0" fill="#e36d1f" stroke="#e8701f" stroke-width="1.6"/><path d="M-4.4,-15.4 a3.3,3.6 0 0 1 6.6,0" fill="#e36d1f" stroke="#e8701f" stroke-width="1.6"/><path d="M2.2,-15.4 a3.3,3.6 0 0 1 6.6,0" fill="#e36d1f" stroke="#e8701f" stroke-width="1.6"/><path d="M8.3,-15.4 a3.3,3.6 0 0 1 6.6,0" fill="#e36d1f" stroke="#e8701f" stroke-width="1.6"/><rect x="-13.85" y="-15.4" width="5.7" height="31.6" rx="2.4" fill="#f68b34"/><rect x="-7.25" y="-16" width="5.7" height="31.8" rx="2.4" fill="#f68b34"/><rect x="-0.65" y="-15.8" width="5.7" height="31.8" rx="2.4" fill="#f68b34"/><rect x="5.95" y="-16.4" width="5.7" height="31.8" rx="2.4" fill="#f68b34"/></g>
<path d="M427.8,367.2 C428.87,366.75 430.97,366.47 433.1,366.4 C435.23,366.33 438.08,366.67 440.6,366.8 C443.12,366.93 446.18,366.82 448.2,367.2 C450.22,367.58 451.57,368.42 452.7,369.1 C453.83,369.78 454.8,370.52 455,371.3 C455.2,372.08 453.72,372.98 453.9,373.8 C454.08,374.62 455.8,375.23 456.1,376.2 C456.4,377.17 456.08,378.27 455.7,379.6 C455.32,380.93 454.37,382.43 453.8,384.2 C453.23,385.97 452.67,388.32 452.3,390.2 C451.93,392.08 451.78,394 451.6,395.5 C451.42,397 451.52,398.2 451.2,399.2 C450.88,400.2 450.83,400.98 449.7,401.5 C448.57,402.02 446.17,402.33 444.4,402.3 C442.63,402.27 440.98,401.4 439.1,401.3 C437.22,401.2 434.85,401.78 433.1,401.7 C431.35,401.62 429.73,401.47 428.6,400.8 C427.47,400.13 426.68,398.97 426.3,397.7 C425.92,396.43 426.17,394.7 426.3,393.2 C426.43,391.7 426.97,390.08 427.1,388.7 C427.23,387.32 427.3,386.28 427.1,384.9 C426.9,383.52 426.28,381.85 425.9,380.4 C425.52,378.95 425.05,377.4 424.8,376.2 C424.55,375 424.15,373.88 424.4,373.2 C424.65,372.52 425.92,372.78 426.3,372.1 C426.68,371.42 426.45,369.92 426.7,369.1 C426.95,368.28 426.73,367.65 427.8,367.2 Z" fill="#1b7eab" stroke="#16668f" stroke-width="0.5"/>
<path d="M434.6,367 C435.11,366.17 439.33,366.79 440.5,366.8 C441.67,366.81 445.76,366.27 446.3,367.1 C446.84,367.93 446.2,373.32 445.9,375.1 C445.6,376.88 443.6,383.24 443.3,384.9 C443,386.56 442.93,390.06 442.9,391.7 C442.87,393.34 443.49,400.31 443,401.3 C442.51,402.29 438.99,401.59 438,401.6 C437.01,401.61 433.48,402.16 433.1,401.4 C432.72,400.64 433.86,395.65 434.2,394 C434.54,392.35 436.38,386.79 436.5,384.9 C436.62,383.01 435.59,376.89 435.4,375.1 C435.21,373.31 434.09,367.83 434.6,367 Z" fill="#0e5f8c"/>
<g transform="translate(538.4,392.3) rotate(4) scale(1)"><path d="M12.2,-14 C15,-17 15.6,-21 13.4,-22.3 C11.4,-23.5 9.9,-22.8 7.9,-24.2 C4.9,-26.5 1.9,-28.6 -1.1,-28.2" fill="none" stroke="#175c80" stroke-width="1.45" stroke-linecap="round"/><path d="M-11,15.6 C-14,18 -15,21.5 -12.5,23.5 C-8.5,26.3 1.5,24.1 8.3,25.7" fill="none" stroke="#175c80" stroke-width="1.45" stroke-linecap="round"/><path d="M-10.6,14.8 a2.9,3.8 0 0 0 5.8,0" fill="none" stroke="#175c80" stroke-width="1.45"/><path d="M-4,14.8 a2.9,3.8 0 0 0 5.8,0" fill="none" stroke="#175c80" stroke-width="1.45"/><path d="M2.6,14.8 a2.9,3.8 0 0 0 5.8,0" fill="none" stroke="#175c80" stroke-width="1.45"/><rect x="-10.5" y="-16.3" width="5.6" height="29.8" rx="2.4" fill="#145d88"/><rect x="-3.9" y="-16.6" width="5.6" height="30.4" rx="2.4" fill="#145d88"/><rect x="2.7" y="-16.4" width="5.6" height="30" rx="2.4" fill="#145d88"/><rect x="9.2" y="-16.8" width="5.6" height="29.3" rx="2.4" fill="#145d88"/><path d="M-11,-15.4 a3.3,3.6 0 0 1 6.6,0" fill="#145d88" stroke="#175c80" stroke-width="1.6"/><path d="M-4.4,-15.4 a3.3,3.6 0 0 1 6.6,0" fill="#145d88" stroke="#175c80" stroke-width="1.6"/><path d="M2.2,-15.4 a3.3,3.6 0 0 1 6.6,0" fill="#145d88" stroke="#175c80" stroke-width="1.6"/><path d="M8.3,-15.4 a3.3,3.6 0 0 1 6.6,0" fill="#145d88" stroke="#175c80" stroke-width="1.6"/><rect x="-13.85" y="-15.4" width="5.7" height="31.6" rx="2.4" fill="#1f79ad"/><rect x="-7.25" y="-16" width="5.7" height="31.8" rx="2.4" fill="#1f79ad"/><rect x="-0.65" y="-15.8" width="5.7" height="31.8" rx="2.4" fill="#1f79ad"/><rect x="5.95" y="-16.4" width="5.7" height="31.8" rx="2.4" fill="#1f79ad"/></g>
<g transform="translate(651.5,423) rotate(16) scale(1)"><path d="M12.2,-14 C15,-17 15.6,-21 13.4,-22.3 C11.4,-23.5 9.9,-22.8 7.9,-24.2 C4.9,-26.5 1.9,-28.6 -1.1,-28.2" fill="none" stroke="#a5603f" stroke-width="1.45" stroke-linecap="round"/><path d="M-11,15.6 C-14,18 -15,21.5 -12.5,23.5 C-8.5,26.3 1.5,24.1 8.3,25.7" fill="none" stroke="#a5603f" stroke-width="1.45" stroke-linecap="round"/><path d="M-10.6,14.8 a2.9,3.8 0 0 0 5.8,0" fill="none" stroke="#a5603f" stroke-width="1.45"/><path d="M-4,14.8 a2.9,3.8 0 0 0 5.8,0" fill="none" stroke="#a5603f" stroke-width="1.45"/><path d="M2.6,14.8 a2.9,3.8 0 0 0 5.8,0" fill="none" stroke="#a5603f" stroke-width="1.45"/><rect x="-10.5" y="-16.3" width="5.6" height="29.8" rx="2.4" fill="#9b5f4c"/><rect x="-3.9" y="-16.6" width="5.6" height="30.4" rx="2.4" fill="#9b5f4c"/><rect x="2.7" y="-16.4" width="5.6" height="30" rx="2.4" fill="#9b5f4c"/><rect x="9.2" y="-16.8" width="5.6" height="29.3" rx="2.4" fill="#9b5f4c"/><path d="M-11,-15.4 a3.3,3.6 0 0 1 6.6,0" fill="#9b5f4c" stroke="#a5603f" stroke-width="1.6"/><path d="M-4.4,-15.4 a3.3,3.6 0 0 1 6.6,0" fill="#9b5f4c" stroke="#a5603f" stroke-width="1.6"/><path d="M2.2,-15.4 a3.3,3.6 0 0 1 6.6,0" fill="#9b5f4c" stroke="#a5603f" stroke-width="1.6"/><path d="M8.3,-15.4 a3.3,3.6 0 0 1 6.6,0" fill="#9b5f4c" stroke="#a5603f" stroke-width="1.6"/><rect x="-13.85" y="-15.4" width="5.7" height="31.6" rx="2.4" fill="#b7857a"/><rect x="-7.25" y="-16" width="5.7" height="31.8" rx="2.4" fill="#b7857a"/><rect x="-0.65" y="-15.8" width="5.7" height="31.8" rx="2.4" fill="#b7857a"/><rect x="5.95" y="-16.4" width="5.7" height="31.8" rx="2.4" fill="#b7857a"/></g>
<g transform="translate(695,439.5) rotate(15) scale(1)"><path d="M12.2,-14 C15,-17 15.6,-21 13.4,-22.3 C11.4,-23.5 9.9,-22.8 7.9,-24.2 C4.9,-26.5 1.9,-28.6 -1.1,-28.2" fill="none" stroke="#1e6c84" stroke-width="1.45" stroke-linecap="round"/><path d="M-11,15.6 C-14,18 -15,21.5 -12.5,23.5 C-8.5,26.3 1.5,24.1 8.3,25.7" fill="none" stroke="#1e6c84" stroke-width="1.45" stroke-linecap="round"/><path d="M-10.6,14.8 a2.9,3.8 0 0 0 5.8,0" fill="none" stroke="#1e6c84" stroke-width="1.45"/><path d="M-4,14.8 a2.9,3.8 0 0 0 5.8,0" fill="none" stroke="#1e6c84" stroke-width="1.45"/><path d="M2.6,14.8 a2.9,3.8 0 0 0 5.8,0" fill="none" stroke="#1e6c84" stroke-width="1.45"/><rect x="-10.5" y="-16.3" width="5.6" height="29.8" rx="2.4" fill="#125a84"/><rect x="-3.9" y="-16.6" width="5.6" height="30.4" rx="2.4" fill="#125a84"/><rect x="2.7" y="-16.4" width="5.6" height="30" rx="2.4" fill="#125a84"/><rect x="9.2" y="-16.8" width="5.6" height="29.3" rx="2.4" fill="#125a84"/><path d="M-11,-15.4 a3.3,3.6 0 0 1 6.6,0" fill="#125a84" stroke="#1e6c84" stroke-width="1.6"/><path d="M-4.4,-15.4 a3.3,3.6 0 0 1 6.6,0" fill="#125a84" stroke="#1e6c84" stroke-width="1.6"/><path d="M2.2,-15.4 a3.3,3.6 0 0 1 6.6,0" fill="#125a84" stroke="#1e6c84" stroke-width="1.6"/><path d="M8.3,-15.4 a3.3,3.6 0 0 1 6.6,0" fill="#125a84" stroke="#1e6c84" stroke-width="1.6"/><rect x="-13.85" y="-15.4" width="5.7" height="31.6" rx="2.4" fill="#1c74a8"/><rect x="-7.25" y="-16" width="5.7" height="31.8" rx="2.4" fill="#1c74a8"/><rect x="-0.65" y="-15.8" width="5.7" height="31.8" rx="2.4" fill="#1c74a8"/><rect x="5.95" y="-16.4" width="5.7" height="31.8" rx="2.4" fill="#1c74a8"/></g>
<path d="M204,506 L214.79,511.03 A11.9,11.9 0 1 1 215.38,502.52 Z" fill="#1670c8" stroke="#0c4c98" stroke-width="0.7"/>
<path d="M281.34,604.22 L281.88,604.62 L282.42,605 L282.97,605.36 L283.53,605.7 L284.1,606.03 L284.67,606.32 L285.25,606.6 L285.84,606.84 L286.43,607.05 L287.03,607.23 L287.63,607.37 L288.23,607.48 L288.84,607.56 L289.45,607.6 L290.05,607.6 L290.66,607.56 L291.27,607.48 L291.87,607.37 L292.47,607.23 L293.07,607.05 L293.66,606.84 L294.25,606.6 L294.83,606.32 L295.4,606.03 L295.97,605.7 L296.53,605.36 L297.08,605 L297.62,604.62 L298.16,604.22 L298.68,603.82 L299.2,603.41 L299.7,603 L300.2,602.59 L300.68,602.18 L301.16,601.78 L301.62,601.38 L302.08,601 L302.53,600.64 L302.97,600.3 L303.4,599.97 L303.83,599.68 L304.25,599.4 L304.66,599.16 L305.07,598.95 L305.47,598.77 L305.87,598.63 L306.27,598.52 L306.66,598.44 L307.05,598.4 L307.45,598.4 L307.84,598.44 L308.23,598.52 L308.63,598.63 L309.03,598.77 L309.43,598.95 L309.84,599.16 L310.25,599.4 L310.67,599.68 L311.1,599.97 L311.53,600.3 L311.97,600.64 L312.42,601 L312.88,601.38 L313.34,601.78 L313.82,602.18 L314.3,602.59 L314.8,603 L315.3,603.41 L315.82,603.82 L316.34,604.22 L316.88,604.62 L317.42,605 L317.97,605.36 L318.53,605.7 L319.1,606.03 L319.67,606.32 L320.25,606.6 L320.84,606.84 L321.43,607.05 L322.03,607.23 L322.63,607.37 L323.23,607.48 L323.84,607.56 L324.45,607.6 L325.05,607.6 L325.66,607.56 L326.27,607.48 L326.87,607.37 L327.47,607.23 L328.07,607.05 L328.66,606.84 L329.25,606.6 L329.83,606.32 L330.4,606.03 L330.97,605.7 L331.53,605.36 L332.08,605 L332.62,604.62 L333.16,604.22 L333.68,603.82 L334.2,603.41 L334.7,603 L335.2,602.59 L335.68,602.18 L336.16,601.78 L336.62,601.38 L337.08,601 L337.53,600.64 L337.97,600.3 L338.4,599.97 L338.83,599.68 L339.25,599.4 L339.66,599.16 L340.07,598.95 L340.47,598.77 L340.87,598.63 L341.27,598.52 L341.66,598.44 L342.05,598.4 L342.45,598.4 L342.84,598.44 L343.23,598.52 L343.63,598.63 L344.03,598.77 L344.43,598.95 L344.84,599.16 L345.25,599.4 L345.67,599.68 L346.1,599.97 L346.53,600.3 L346.97,600.64 L347.42,601 L347.88,601.38 L348.34,601.78 L348.82,602.18 L349.3,602.59 L349.8,603 L350.3,603.41 L350.82,603.82 L351.34,604.22 L351.88,604.62 L352.42,605 L352.97,605.36 L353.53,605.7 L354.1,606.03 L354.67,606.32 L355.25,606.6 L355.84,606.84 L356.43,607.05 L357.03,607.23 L357.63,607.37 L358.23,607.48 L358.84,607.56 L359.45,607.6 L360.05,607.6 L360.66,607.56 L361.27,607.48 L361.87,607.37 L362.47,607.23 L363.07,607.05 L363.66,606.84 L364.25,606.6 L364.83,606.32 L365.4,606.03 L365.97,605.7 L366.53,605.36 L367.08,605 L367.62,604.62 L368.16,604.22 L368.68,603.82 L369.2,603.41 L369.7,603 L370.2,602.59 L370.68,602.18 L371,601.78" fill="none" stroke="#cf1a22" stroke-width="2.6"/><path d="M281.18,603.82 L281.7,603.41 L282.2,603 L282.7,602.59 L283.18,602.18 L283.66,601.78 L284.12,601.38 L284.58,601 L285.03,600.64 L285.47,600.3 L285.9,599.97 L286.33,599.68 L286.75,599.4 L287.16,599.16 L287.57,598.95 L287.97,598.77 L288.37,598.63 L288.77,598.52 L289.16,598.44 L289.55,598.4 L289.95,598.4 L290.34,598.44 L290.73,598.52 L291.13,598.63 L291.53,598.77 L291.93,598.95 L292.34,599.16 L292.75,599.4 L293.17,599.68 L293.6,599.97 L294.03,600.3 L294.47,600.64 L294.92,601 L295.38,601.38 L295.84,601.78 L296.32,602.18 L296.8,602.59 L297.3,603 L297.8,603.41 L298.32,603.82 L298.84,604.22 L299.38,604.62 L299.92,605 L300.47,605.36 L301.03,605.7 L301.6,606.03 L302.17,606.32 L302.75,606.6 L303.34,606.84 L303.93,607.05 L304.53,607.23 L305.13,607.37 L305.73,607.48 L306.34,607.56 L306.95,607.6 L307.55,607.6 L308.16,607.56 L308.77,607.48 L309.37,607.37 L309.97,607.23 L310.57,607.05 L311.16,606.84 L311.75,606.6 L312.33,606.32 L312.9,606.03 L313.47,605.7 L314.03,605.36 L314.58,605 L315.12,604.62 L315.66,604.22 L316.18,603.82 L316.7,603.41 L317.2,603 L317.7,602.59 L318.18,602.18 L318.66,601.78 L319.12,601.38 L319.58,601 L320.03,600.64 L320.47,600.3 L320.9,599.97 L321.33,599.68 L321.75,599.4 L322.16,599.16 L322.57,598.95 L322.97,598.77 L323.37,598.63 L323.77,598.52 L324.16,598.44 L324.55,598.4 L324.95,598.4 L325.34,598.44 L325.73,598.52 L326.13,598.63 L326.53,598.77 L326.93,598.95 L327.34,599.16 L327.75,599.4 L328.17,599.68 L328.6,599.97 L329.03,600.3 L329.47,600.64 L329.92,601 L330.38,601.38 L330.84,601.78 L331.32,602.18 L331.8,602.59 L332.3,603 L332.8,603.41 L333.32,603.82 L333.84,604.22 L334.38,604.62 L334.92,605 L335.47,605.36 L336.03,605.7 L336.6,606.03 L337.17,606.32 L337.75,606.6 L338.34,606.84 L338.93,607.05 L339.53,607.23 L340.13,607.37 L340.73,607.48 L341.34,607.56 L341.95,607.6 L342.55,607.6 L343.16,607.56 L343.77,607.48 L344.37,607.37 L344.97,607.23 L345.57,607.05 L346.16,606.84 L346.75,606.6 L347.33,606.32 L347.9,606.03 L348.47,605.7 L349.03,605.36 L349.58,605 L350.12,604.62 L350.66,604.22 L351.18,603.82 L351.7,603.41 L352.2,603 L352.7,602.59 L353.18,602.18 L353.66,601.78 L354.12,601.38 L354.58,601 L355.03,600.64 L355.47,600.3 L355.9,599.97 L356.33,599.68 L356.75,599.4 L357.16,599.16 L357.57,598.95 L357.97,598.77 L358.37,598.63 L358.77,598.52 L359.16,598.44 L359.55,598.4 L359.95,598.4 L360.34,598.44 L360.73,598.52 L361.13,598.63 L361.53,598.77 L361.93,598.95 L362.34,599.16 L362.75,599.4 L363.17,599.68 L363.6,599.97 L364.03,600.3 L364.47,600.64 L364.92,601 L365.38,601.38 L365.84,601.78 L366.32,602.18 L366.8,602.59 L367.3,603 L367.8,603.41 L368.32,603.82 L368.84,604.22 L369.38,604.62 L369.92,605 L370.47,605.36 L371,605.7" fill="none" stroke="#f2282c" stroke-width="2.6"/>
<path d="M371.34,604.22 L371.88,604.62 L372.42,605 L372.97,605.36 L373.53,605.7 L374.1,606.03 L374.67,606.32 L375.25,606.6 L375.84,606.84 L376.43,607.05 L377.03,607.23 L377.63,607.37 L378.23,607.48 L378.84,607.56 L379.45,607.6 L380.05,607.6 L380.66,607.56 L381.27,607.48 L381.87,607.37 L382.47,607.23 L383.07,607.05 L383.66,606.84 L384.25,606.6 L384.83,606.32 L385.4,606.03 L385.97,605.7 L386.53,605.36 L387.08,605 L387.62,604.62 L388.16,604.22 L388.68,603.82 L389.2,603.41 L389.7,603 L390.2,602.59 L390.68,602.18 L391.16,601.78 L391.62,601.38 L392.08,601 L392.53,600.64 L392.97,600.3 L393.4,599.97 L393.83,599.68 L394.25,599.4 L394.66,599.16 L395.07,598.95 L395.47,598.77 L395.87,598.63 L396.27,598.52 L396.66,598.44 L397.05,598.4 L397.45,598.4 L397.84,598.44 L398.23,598.52 L398.63,598.63 L399.03,598.77 L399.43,598.95 L399.84,599.16 L400.25,599.4 L400.67,599.68 L401.1,599.97 L401.53,600.3 L401.97,600.64 L402.42,601 L402.88,601.38 L403.34,601.78 L403.82,602.18 L404.3,602.59 L404.8,603 L405.3,603.41 L405.82,603.82 L406.34,604.22 L406.88,604.62 L407.42,605 L407.97,605.36 L408.53,605.7 L409.1,606.03 L409.67,606.32 L410.25,606.6 L410.84,606.84 L411.43,607.05 L412.03,607.23 L412.63,607.37 L413.23,607.48 L413.84,607.56 L414.45,607.6 L415.05,607.6 L415.66,607.56 L416.27,607.48 L416.87,607.37 L417.47,607.23 L418.07,607.05 L418.66,606.84 L419.25,606.6 L419.83,606.32 L420.4,606.03 L420.97,605.7 L421.53,605.36 L422.08,605 L422.62,604.62 L423.16,604.22 L423.68,603.82 L424.2,603.41 L424.7,603 L425.2,602.59 L425.68,602.18 L426.16,601.78 L426.62,601.38 L427.08,601 L427.53,600.64 L427.97,600.3 L428.4,599.97 L428.83,599.68 L429.25,599.4 L429.66,599.16 L430.07,598.95 L430.47,598.77 L430.87,598.63 L431.27,598.52 L431.66,598.44 L432.05,598.4 L432.45,598.4 L432.84,598.44 L433.23,598.52 L433.63,598.63 L434.03,598.77 L434.43,598.95 L434.84,599.16 L435.25,599.4 L435.67,599.68 L436.1,599.97 L436.53,600.3 L436.97,600.64 L437.42,601 L437.88,601.38 L438.34,601.78 L438.82,602.18 L439.3,602.59 L439.8,603 L440.3,603.41 L440.82,603.82 L441.34,604.22 L441.88,604.62 L442.42,605 L442.97,605.36 L443.53,605.7 L444.1,606.03 L444.67,606.32 L445.25,606.6 L445.84,606.84 L446.43,607.05 L447.03,607.23 L447.63,607.37 L448.23,607.48 L448.84,607.56 L449.45,607.6 L450.05,607.6 L450.66,607.56 L451.27,607.48 L451.87,607.37 L452.47,607.23 L453.07,607.05 L453.66,606.84 L454.25,606.6 L454.83,606.32 L455.4,606.03 L455.97,605.7 L456.53,605.36 L457.08,605 L457.62,604.62 L458,604.22" fill="none" stroke="#0b5064" stroke-width="2.6"/><path d="M371.18,603.82 L371.7,603.41 L372.2,603 L372.7,602.59 L373.18,602.18 L373.66,601.78 L374.12,601.38 L374.58,601 L375.03,600.64 L375.47,600.3 L375.9,599.97 L376.33,599.68 L376.75,599.4 L377.16,599.16 L377.57,598.95 L377.97,598.77 L378.37,598.63 L378.77,598.52 L379.16,598.44 L379.55,598.4 L379.95,598.4 L380.34,598.44 L380.73,598.52 L381.13,598.63 L381.53,598.77 L381.93,598.95 L382.34,599.16 L382.75,599.4 L383.17,599.68 L383.6,599.97 L384.03,600.3 L384.47,600.64 L384.92,601 L385.38,601.38 L385.84,601.78 L386.32,602.18 L386.8,602.59 L387.3,603 L387.8,603.41 L388.32,603.82 L388.84,604.22 L389.38,604.62 L389.92,605 L390.47,605.36 L391.03,605.7 L391.6,606.03 L392.17,606.32 L392.75,606.6 L393.34,606.84 L393.93,607.05 L394.53,607.23 L395.13,607.37 L395.73,607.48 L396.34,607.56 L396.95,607.6 L397.55,607.6 L398.16,607.56 L398.77,607.48 L399.37,607.37 L399.97,607.23 L400.57,607.05 L401.16,606.84 L401.75,606.6 L402.33,606.32 L402.9,606.03 L403.47,605.7 L404.03,605.36 L404.58,605 L405.12,604.62 L405.66,604.22 L406.18,603.82 L406.7,603.41 L407.2,603 L407.7,602.59 L408.18,602.18 L408.66,601.78 L409.12,601.38 L409.58,601 L410.03,600.64 L410.47,600.3 L410.9,599.97 L411.33,599.68 L411.75,599.4 L412.16,599.16 L412.57,598.95 L412.97,598.77 L413.37,598.63 L413.77,598.52 L414.16,598.44 L414.55,598.4 L414.95,598.4 L415.34,598.44 L415.73,598.52 L416.13,598.63 L416.53,598.77 L416.93,598.95 L417.34,599.16 L417.75,599.4 L418.17,599.68 L418.6,599.97 L419.03,600.3 L419.47,600.64 L419.92,601 L420.38,601.38 L420.84,601.78 L421.32,602.18 L421.8,602.59 L422.3,603 L422.8,603.41 L423.32,603.82 L423.84,604.22 L424.38,604.62 L424.92,605 L425.47,605.36 L426.03,605.7 L426.6,606.03 L427.17,606.32 L427.75,606.6 L428.34,606.84 L428.93,607.05 L429.53,607.23 L430.13,607.37 L430.73,607.48 L431.34,607.56 L431.95,607.6 L432.55,607.6 L433.16,607.56 L433.77,607.48 L434.37,607.37 L434.97,607.23 L435.57,607.05 L436.16,606.84 L436.75,606.6 L437.33,606.32 L437.9,606.03 L438.47,605.7 L439.03,605.36 L439.58,605 L440.12,604.62 L440.66,604.22 L441.18,603.82 L441.7,603.41 L442.2,603 L442.7,602.59 L443.18,602.18 L443.66,601.78 L444.12,601.38 L444.58,601 L445.03,600.64 L445.47,600.3 L445.9,599.97 L446.33,599.68 L446.75,599.4 L447.16,599.16 L447.57,598.95 L447.97,598.77 L448.37,598.63 L448.77,598.52 L449.16,598.44 L449.55,598.4 L449.95,598.4 L450.34,598.44 L450.73,598.52 L451.13,598.63 L451.53,598.77 L451.93,598.95 L452.34,599.16 L452.75,599.4 L453.17,599.68 L453.6,599.97 L454.03,600.3 L454.47,600.64 L454.92,601 L455.38,601.38 L455.84,601.78 L456.32,602.18 L456.8,602.59 L457.3,603 L457.8,603.41 L458,603.82" fill="none" stroke="#147a8a" stroke-width="2.6"/>
<path d="M377.7,601 L377.7,573 L432,573" fill="none" stroke="#0e4b50" stroke-width="3"/>
<path d="M443.6,573 L430.8,567 L430.8,579 Z" fill="#0e4b50"/>
<rect x="296.5" y="571" width="60.5" height="26" rx="13" fill="#f7b5c6" stroke="#b83e5f" stroke-width="1.2"/>
<circle cx="361.2" cy="572.9" r="10.4" fill="#f8d75a" stroke="#a8703a" stroke-width="1.1"/>
<line x1="343.5" y1="573.4" x2="410" y2="573.4" stroke="#262626" stroke-width="1.1"/>
<path d="M414.4,573 L405,568.8 L405,577.2 Z" fill="#1a1a1a"/>
<g font-family="Liberation Sans, sans-serif" stroke="#1a1a1a" stroke-width="0.15"><text x="242.1" y="108.6" font-size="13.2" text-anchor="start" textLength="68.48" lengthAdjust="spacing" fill="#1a1a1a">transporter</text><text x="316.8" y="126.3" font-size="12.8" text-anchor="start" textLength="26.74" lengthAdjust="spacing" fill="#1a1a1a">5-HT</text><text x="316.8" y="141.5" font-size="12.8" text-anchor="start" textLength="65.38" lengthAdjust="spacing" fill="#1a1a1a">Adenosine</text><text x="397.9" y="124.8" font-size="12.8" text-anchor="start" textLength="25.91" lengthAdjust="spacing" fill="#1a1a1a">AEA</text><text x="398.2" y="140.2" font-size="12.8" text-anchor="start" textLength="29.47" lengthAdjust="spacing" fill="#1a1a1a">2-AG</text><text x="506.3" y="138.4" font-size="13" text-anchor="start" textLength="23" lengthAdjust="spacing" fill="#1a1a1a">CB1</text><text x="608.8" y="127.8" font-size="10" text-anchor="start" textLength="22.94" lengthAdjust="spacing" fill="#1a1a1a">2-AG</text><text x="641.7" y="153.1" font-size="10.2" text-anchor="start" textLength="29.17" lengthAdjust="spacing" fill="#1a1a1a">MAGL</text><text x="51.3" y="483.3" font-size="13.2" text-anchor="start" textLength="46.34" lengthAdjust="spacing" fill="#1a1a1a">5-HT1A</text><text x="150.3" y="460.1" font-size="13.2" text-anchor="start" textLength="15.66" lengthAdjust="spacing" fill="#1a1a1a">D2</text><text x="244.8" y="436.7" font-size="13" text-anchor="start" textLength="18.68" lengthAdjust="spacing" fill="#1a1a1a">Ion</text><text x="244.8" y="451.3" font-size="13" text-anchor="start" textLength="48.05" lengthAdjust="spacing" fill="#1a1a1a">channel</text><text x="359.5" y="426.1" font-size="12.8" text-anchor="start" textLength="29.76" lengthAdjust="spacing" fill="#1a1a1a">MOR</text><text x="219.9" y="506.8" font-size="10" text-anchor="start" textLength="19.82" lengthAdjust="spacing" fill="#1a1a1a">AEA</text><text x="306.8" y="587.4" font-size="12.3" text-anchor="start" textLength="33.78" lengthAdjust="spacing" fill="#1a1a1a">PPAR</text><text x="358.3" y="577.5" font-size="10.6" text-anchor="start" fill="#1a1a1a">P</text><text x="355.4" y="243.8" font-size="10.8" text-anchor="start" fill="#1a1a1a">H</text><text x="309.1" y="268.8" font-size="10.6" text-anchor="start" fill="#1a1a1a">H</text><text x="385.1" y="243.8" font-size="11" text-anchor="start" textLength="17.7" lengthAdjust="spacing" fill="#1a1a1a">OH</text><text x="346.1" y="293.8" font-size="11" text-anchor="start" textLength="16.5" lengthAdjust="spacing" fill="#1a1a1a">HO</text><text x="0" y="0" font-size="13.6" text-anchor="start" textLength="40.3" lengthAdjust="spacing" transform="translate(415.2 429.8) rotate(7) skewX(-5)" fill="#1a1a1a">TRPV1</text><text x="0" y="0" font-size="13.6" text-anchor="start" textLength="42.4" lengthAdjust="spacing" transform="translate(515.9 436.8) rotate(6.7) skewX(-5)" fill="#1a1a1a">GPR55</text><text x="623.2" y="460.4" font-size="13.4" text-anchor="start" transform="rotate(18.3 623.2 460.4)" fill="#1a1a1a">A2</text><text x="666.6" y="475.3" font-size="13.2" text-anchor="start" transform="rotate(20 666.6 475.3)" fill="#1a1a1a">CB1/</text><text x="661.3" y="490.3" font-size="13.2" text-anchor="start" transform="rotate(20 661.3 490.3)" fill="#1a1a1a">CB2</text><text x="0" y="0" font-size="10" text-anchor="start" textLength="25.8" lengthAdjust="spacing" transform="translate(181.6 526.6) rotate(8.3) skewX(-5)" fill="#1a1a1a">FAAH</text></g>
<rect x="11.4" y="11.4" width="741.8" height="611" fill="none" stroke="#222222" stroke-width="2.9"/>
</svg>
</body></html>
